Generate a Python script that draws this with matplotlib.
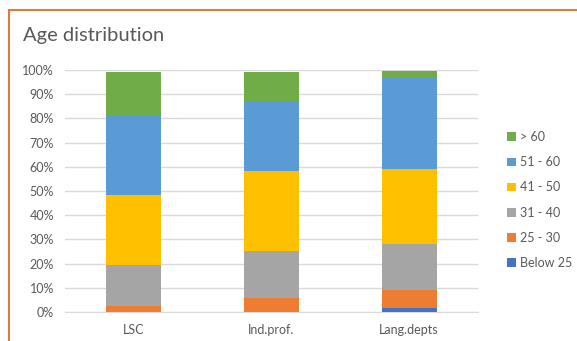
import numpy as np
import matplotlib.pyplot as plt
from matplotlib.lines import Line2D

plt.rcParams['font.family'] = ['Lato', 'DejaVu Sans']

groups = ['LSC', 'Ind.prof.', 'Lang.depts']
labels = ['Below 25', '25 - 30', '31 - 40', '41 - 50', '51 - 60', '> 60']
below25 = [0.0, 0.0, 1.5]
a25_30 = [2.6, 5.7, 7.6]
a31_40 = [16.8, 19.6, 19.0]
a41_50 = [28.9, 33.1, 31.0]
a51_60 = [33.1, 28.8, 37.8]
over60 = [17.9, 12.1, 2.8]
series = [below25, a25_30, a31_40, a41_50, a51_60, over60]
colors = ['#4472C4', '#ED7D31', '#A5A5A5', '#FFC000', '#5B9BD5', '#70AD47']

fig = plt.figure(figsize=(5.77, 3.41), dpi=100)
ax = fig.add_axes([65/577, 29/341, 413/577, 242/341])

# orange frame of the chart box (only top and left are visible)
fx, fy = 9/577, 1 - 9.5/341
fig.add_artist(Line2D([fx, fx], [0, fy], transform=fig.transFigure,
                      color='#E07A3A', lw=1.5))
fig.add_artist(Line2D([fx, 1], [fy, fy], transform=fig.transFigure,
                      color='#E07A3A', lw=1.5))

x = np.arange(len(groups))
bottom = np.zeros(len(groups))
handles = []
for vals, col, lab in zip(series, colors, labels):
    b = ax.bar(x, vals, width=0.4, bottom=bottom, color=col, label=lab, zorder=3)
    handles.append(b)
    bottom += np.array(vals)

ax.set_xlim(-0.5, 2.5)
ax.set_ylim(0, 100)
ax.set_yticks(range(0, 101, 10))
ax.set_yticklabels([f'{v}%' for v in range(0, 101, 10)])
ax.set_xticks(x)
ax.set_xticklabels(groups)
ax.grid(axis='y', color='#D9D9D9', lw=1, zorder=0)
for s in ['top', 'right', 'left']:
    ax.spines[s].set_visible(False)
ax.spines['bottom'].set_color('#D9D9D9')
ax.tick_params(length=0, colors='#595959', labelsize=9)
ax.tick_params(axis='x', pad=9)
ax.tick_params(axis='y', pad=8)

fig.text(23/577, 1 - 35/341, 'Age distribution', fontsize=14.5, color='#595959', va='center')

leg = fig.legend(handles[::-1], labels[::-1], loc='center left',
                 bbox_to_anchor=(496/577, 1 - 200/341), frameon=False,
                 fontsize=9, labelspacing=1.05, handlelength=0.7, handleheight=0.7,
                 handletextpad=0.3)
for t in leg.get_texts():
    t.set_color('#595959')

fig.savefig('out.png', dpi=100)
